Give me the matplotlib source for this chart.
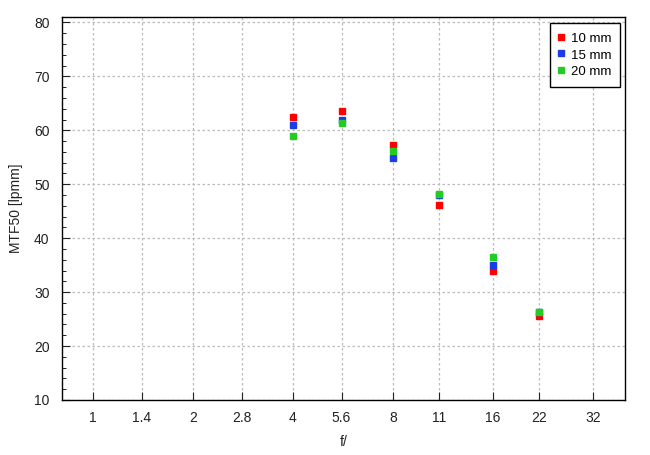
import numpy as np
import matplotlib.pyplot as plt
from matplotlib.ticker import MultipleLocator, NullLocator

plt.rcParams['font.family'] = ['Liberation Sans', 'DejaVu Sans']
plt.rcParams['font.size'] = 10

fstops = [1, 1.4, 2, 2.8, 4, 5.6, 8, 11, 16, 22, 32]
tick_labels = ['1', '1.4', '2', '2.8', '4', '5.6', '8', '11', '16', '22', '32']

f = [4, 5.6, 8, 11, 16, 22]
mtf_10 = [62.5, 63.5, 57.3, 46.2, 34.0, 25.5]
mtf_15 = [61.0, 61.9, 54.9, 48.0, 35.1, 26.3]
mtf_20 = [59.0, 61.4, 56.1, 48.1, 36.6, 26.4]

fig = plt.figure(figsize=(6.5, 4.55), dpi=100)
ax = fig.add_axes([0.0954, 0.1209, 0.8661, 0.8417])

ax.plot(f, mtf_10, 's', color='#ff0000', markersize=5, label='10 mm')
ax.plot(f, mtf_15, 's', color='#1a3de6', markersize=5, label='15 mm')
ax.plot(f, mtf_20, 's', color='#22cc22', markersize=5, label='20 mm')

ax.set_xscale('log', base=2)
ax.set_xlim(2**-0.31, 2**5.32)
ax.set_xticks(fstops)
ax.set_xticklabels(tick_labels)
ax.xaxis.set_minor_locator(NullLocator())
ax.set_ylim(10, 81)
ax.yaxis.set_major_locator(MultipleLocator(10))
ax.yaxis.set_minor_locator(MultipleLocator(2))

ax.tick_params(direction='in', which='major', length=6, colors='#222222')
ax.tick_params(direction='in', which='minor', length=3)
ax.tick_params(axis='x', pad=8)
ax.tick_params(axis='y', pad=9)
for s in ax.spines.values():
    s.set_linewidth(1.0)

ax.grid(True, which='major', color='#bbbbbb', linestyle=(0, (2, 2)), linewidth=0.9)

ax.set_xlabel('f/', labelpad=7, color='#222222')
ax.set_ylabel('MTF50 [lpmm]', labelpad=8, color='#222222')

leg = ax.legend(loc='upper right', bbox_to_anchor=(0.991, 0.9849), borderaxespad=0,
                fontsize=9.5, fancybox=False, framealpha=1, edgecolor='black',
                handlelength=0.5, handleheight=1.1, handletextpad=0.46,
                borderpad=0.65, labelspacing=0.2)
leg.get_frame().set_linewidth(1.0)

fig.savefig('out.png', dpi=100)
